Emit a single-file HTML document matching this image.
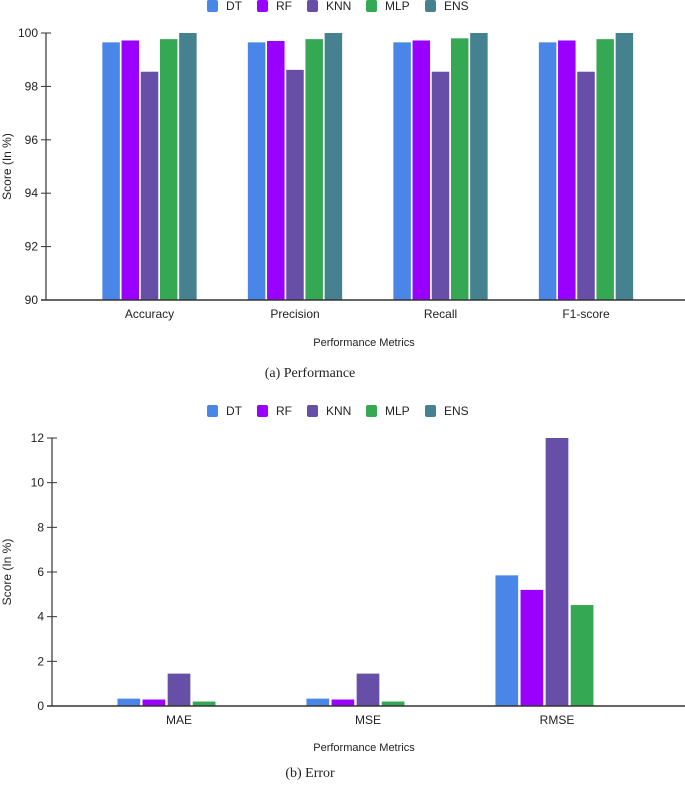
<!DOCTYPE html>
<html><head><meta charset="utf-8"><style>
body{margin:0;background:#fff;}
svg text{font-family:"Liberation Sans",sans-serif;fill:#222;}
</style></head><body>
<svg id="c" width="685" height="787" xmlns="http://www.w3.org/2000/svg"></svg>
<script>
const series=["DT","RF","KNN","MLP","ENS"];
const colors=["#4a86e8","#9900ff","#674ea7","#34a853","#45818e"];
const perfCats=["Accuracy","Precision","Recall","F1-score"];
const perfDT=[99.65,99.65,99.65,99.65];
const perfRF=[99.72,99.70,99.72,99.72];
const perfKNN=[98.55,98.62,98.55,98.55];
const perfMLP=[99.77,99.77,99.80,99.77];
const perfENS=[100,100,100,100];
const perfTicks=[90,92,94,96,98,100];
const errCats=["MAE","MSE","RMSE"];
const errDT=[0.33,0.33,5.85];
const errRF=[0.29,0.29,5.2];
const errKNN=[1.45,1.45,12];
const errMLP=[0.2,0.2,4.52];
const errENS=[0,0,0];
const errTicks=[0,2,4,6,8,10,12];

const svg=document.getElementById('c');
const NS="http://www.w3.org/2000/svg";
function el(t,a,txt){const e=document.createElementNS(NS,t);for(const k in a)e.setAttribute(k,a[k]);if(txt!==undefined)e.textContent=txt;svg.appendChild(e);return e;}

function chart(o){
  const y=v=>o.y0-(v-o.vmin)/(o.vmax-o.vmin)*(o.y0-o.y1);
  // legend
  const lx=[207,257,307,366,425];
  series.forEach((s,i)=>{
    const r=el('rect',{x:lx[i],y:o.ly-6,width:11,height:12,rx:2,fill:colors[i]});
    
    
    const t=el('text',{x:lx[i]+19,y:o.ly+4,'font-size':12},s);
    
    
  });
  // ticks
  o.ticks.forEach(v=>{
    const l=el('line',{x1:o.ax-5,x2:o.ax+5,y1:y(v),y2:y(v),stroke:'#333','stroke-width':1});
    
    
    const t=el('text',{x:o.ax-8,y:y(v)+4,'font-size':12,'text-anchor':'end'},v);
    
    
  });
  // bars
  o.cats.forEach((c,ci)=>{
    const cx=o.c0+o.cs*ci;
    o.vals.forEach((arr,si)=>{
      const x=cx-o.pitch*2.5+si*o.pitch+(o.pitch-o.bw)/2;
      const v=arr[ci];
      if(v<=o.vmin)return;
      const b=el('rect',{x:x,y:y(v),width:o.bw,height:o.y0-y(v),fill:colors[si]});
      
      
    });
    const t=el('text',{x:cx,y:o.y0+18,'font-size':12,'text-anchor':'middle'},c);
    
    
  });
  const ya=el('line',{x1:o.ax,x2:o.ax,y1:o.y1,y2:o.y0,stroke:'#333','stroke-width':1.2});
  
  
  const xa=el('line',{x1:o.ax-5,x2:685,y1:o.y0,y2:o.y0,stroke:'#333','stroke-width':1.5});
  
  
  const yt=el('text',{x:0,y:0,'font-size':12,'text-anchor':'middle',transform:`translate(11,${(o.y0+o.y1)/2}) rotate(-90)`},'Score (In %)');
  
  
  const xt=el('text',{x:364,y:o.xly,'font-size':11,'text-anchor':'middle'},'Performance Metrics');
  
  
  const cap=el('text',{x:310,y:o.capy,'font-size':14,'text-anchor':'middle',style:'font-family:"Liberation Serif",serif'},o.cap);
  
  
}
chart({ly:6,ax:46,y0:300,y1:33,vmin:90,vmax:100,ticks:perfTicks,cats:perfCats,vals:[perfDT,perfRF,perfKNN,perfMLP,perfENS],c0:149.5,cs:145.5,pitch:19.2,bw:17.5,xly:346,capy:377,cap:'(a) Performance'});
chart({ly:411,ax:52,y0:706,y1:438,vmin:0,vmax:12,ticks:errTicks,cats:errCats,vals:[errDT,errRF,errKNN,errMLP,errENS],c0:179,cs:189,pitch:25.1,bw:22.7,xly:751,capy:777,cap:'(b) Error'});
</script>
</body></html>
